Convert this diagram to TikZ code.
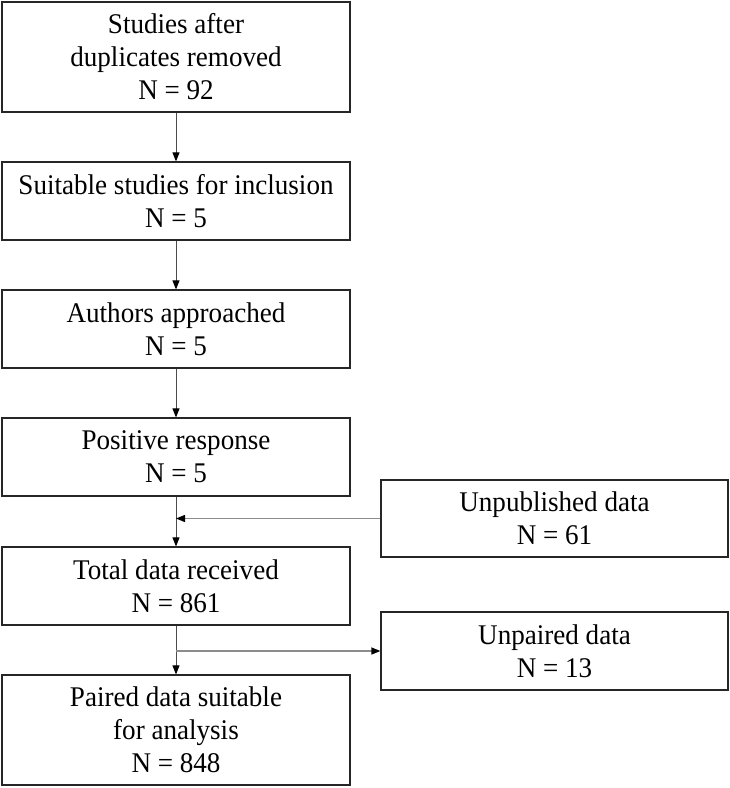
\documentclass[tikz,border=0pt]{standalone}
\usepackage{fontspec}
\setmainfont[FakeStretch=0.95]{Liberation Serif}
\usetikzlibrary{arrows.meta}
\begin{document}
\begin{tikzpicture}[x=1pt,y=-1pt,
  box/.style={draw=black!85, line width=1.2pt, rectangle, align=center, inner sep=0pt,
    font=\fontsize{28.5}{33}\selectfont, text=black},
  tip/.style={-{Triangle[length=9pt,width=7pt,color=black]}},
  vline/.style={tip, draw=black!70, line width=0.9pt},
  hline/.style={tip, draw=black!45, line width=1.2pt}]
\useasboundingbox (0,0) rectangle (730,788);
\node[box, minimum width=348pt, minimum height=110pt] (b1) at (176,57) {Studies after\\duplicates removed\\N = 92};
\node[box, minimum width=348pt, minimum height=78pt] (b2) at (176,201) {Suitable studies for inclusion\\N = 5};
\node[box, minimum width=348pt, minimum height=78pt] (b3) at (176,329) {Authors approached\\N = 5};
\node[box, minimum width=348pt, minimum height=78pt] (b4) at (176,457) {Positive response\\N = 5};
\node[box, minimum width=348pt, minimum height=78pt] (b5) at (176,586) {Total data received\\N = 861};
\node[box, minimum width=348pt, minimum height=110pt] (b6) at (176,730) {Paired data suitable\\for analysis\\N = 848};
\node[box, minimum width=347pt, minimum height=77pt] (up) at (554.5,518.5) {Unpublished data\\N = 61};
\node[box, minimum width=347pt, minimum height=78pt] (pa) at (554.5,651) {Unpaired data\\N = 13};
\draw[vline] (b1) -- (b2);
\draw[vline] (b2) -- (b3);
\draw[vline] (b3) -- (b4);
\draw[vline] (b4) -- (b5);
\draw[vline] (b5) -- (b6);
\draw[hline] (up.west) -- (up.west -| b4.south);
\draw[hline] (b5.south |- pa.west) -- (pa.west);
\end{tikzpicture}
\end{document}
